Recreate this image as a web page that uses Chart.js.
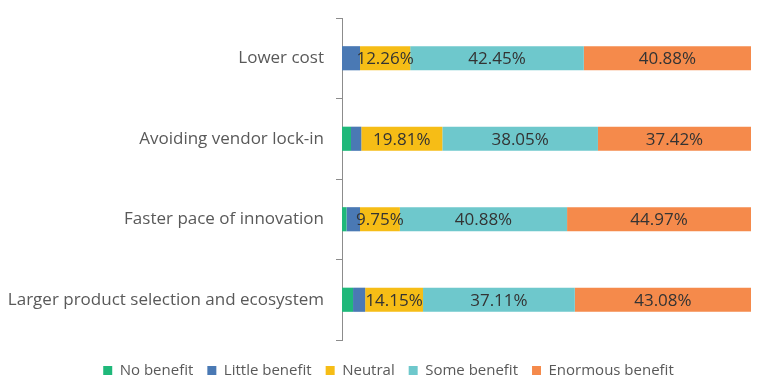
<!DOCTYPE html>
<html>
<head>
<meta charset="utf-8">
<script src="https://cdn.jsdelivr.net/npm/chart.js@4/dist/chart.umd.min.js"></script>
<style>
  html, body { margin: 0; padding: 0; background: #fff; }
  #wrap { width: 776px; height: 389px; }
</style>
</head>
<body>
<div id="wrap"><canvas id="render"></canvas></div>
<script>
const categories = ['Lower cost', 'Avoiding vendor lock-in', 'Faster pace of innovation', 'Larger product selection and ecosystem'];
const noBenefit = [0, 2.2, 1.1, 2.7];
const littleBenefit = [4.41, 2.52, 3.3, 2.96];
const neutral = [12.26, 19.81, 9.75, 14.15];
const someBenefit = [42.45, 38.05, 40.88, 37.11];
const enormousBenefit = [40.88, 37.42, 44.97, 43.08];
const seriesNames = ['No benefit', 'Little benefit', 'Neutral', 'Some benefit', 'Enormous benefit'];

const colors = ['#1fb87a', '#4a79b4', '#f6bd16', '#6ec8cc', '#f58a4b'];
const showLabel = [false, false, true, true, true];
const FONT = '"Open Sans", Lato, sans-serif';

// draw the percentage inside each segment
const segLabels = {
  id: 'segLabels',
  afterLayout(chart) {
    // centre the legend on the whole canvas, not on the padded box
    if (chart.legend) {
      chart.legend.left += 13;
      chart.legend.right += 13;
    }
  },
  afterDatasetsDraw(chart) {
    const ctx = chart.ctx;
    ctx.save();
    ctx.font = '17px ' + FONT;
    ctx.fillStyle = '#333333';
    ctx.textAlign = 'center';
    ctx.textBaseline = 'middle';
    chart.data.datasets.forEach((ds, i) => {
      if (!showLabel[i]) return;
      chart.getDatasetMeta(i).data.forEach((bar, j) => {
        const cx = (bar.x + bar.base) / 2;
        ctx.fillText(ds.data[j].toFixed(2) + '%', cx, bar.y + 1);
      });
    });
    ctx.restore();
  }
};

const data = {
  labels: categories,
  datasets: [noBenefit, littleBenefit, neutral, someBenefit, enormousBenefit].map((d, i) => ({
    label: seriesNames[i],
    data: d,
    backgroundColor: colors[i],
    borderWidth: 0,
    categoryPercentage: 1,
    barPercentage: 0.3
  }))
};

new Chart(document.getElementById('render'), {
  type: 'bar',
  data: data,
  options: {
    indexAxis: 'y',
    responsive: true,
    maintainAspectRatio: false,
    animation: false,
    layout: { padding: { top: 18, right: 25, left: 0, bottom: 1 } },
    scales: {
      x: {
        stacked: true,
        min: 0,
        max: 100,
        // hidden x axis, only used as a gap above the legend
        ticks: { display: false },
        grid: { display: false },
        border: { display: false },
        afterFit: s => { s.height = 9; s.paddingLeft = 0; s.paddingRight = 0; }
      },
      y: {
        stacked: true,
        afterFit: s => { s.width = 342; s.paddingTop = 0; s.paddingBottom = 0; },
        border: { display: true, color: '#8c8c8c', width: 1 },
        grid: {
          offset: true,
          drawOnChartArea: false,
          drawTicks: true,
          tickLength: 6,
          color: '#8c8c8c'
        },
        ticks: {
          padding: 12,
          color: '#595959',
          font: { family: FONT, size: 17 }
        }
      }
    },
    plugins: {
      tooltip: { enabled: false },
      legend: {
        position: 'bottom',
        labels: {
          boxWidth: 9,
          boxHeight: 9,
          padding: 14,
          color: '#595959',
          font: { family: FONT, size: 15 }
        }
      }
    }
  },
  plugins: [segLabels]
});
</script>
</body>
</html>
